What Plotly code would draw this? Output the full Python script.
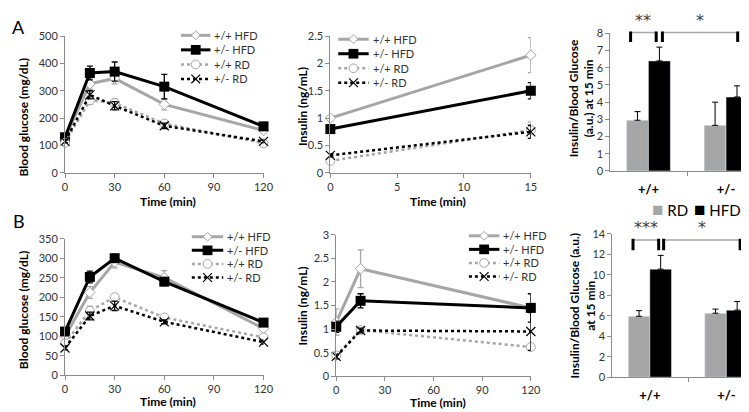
import plotly.graph_objects as go

W, H = 749, 412
FONT = "Lato, 'Open Sans', sans-serif"
GRAY = "#a6a6a6"
AXIS = "#8c8c8c"

# ---- data ----
series = ["+/+ HFD", "+/- HFD", "+/+ RD", "+/- RD"]

# A: glucose tolerance (0-120 min)
a_t = [0, 15, 30, 60, 120]
a_glu = {
    "+/+ HFD": [130, 325, 345, 250, 155],
    "+/- HFD": [130, 365, 370, 315, 170],
    "+/+ RD": [110, 265, 255, 180, 108],
    "+/- RD": [115, 285, 245, 172, 115],
}
a_glu_err = {
    "+/+ HFD": [5, 20, 20, 20, 8],
    "+/- HFD": [8, 25, 35, 45, 10],
    "+/+ RD": [5, 15, 15, 10, 5],
    "+/- RD": [5, 15, 15, 10, 5],
}
# A: insulin (0-15 min)
a_ins_t = [0, 15]
a_ins = {
    "+/+ HFD": [1.0, 2.15],
    "+/- HFD": [0.8, 1.5],
    "+/+ RD": [0.22, 0.78],
    "+/- RD": [0.32, 0.75],
}
a_ins_err = {
    "+/+ HFD": [0.05, 0.32],
    "+/- HFD": [0.05, 0.15],
    "+/+ RD": [0.03, 0.15],
    "+/- RD": [0.03, 0.12],
}

# B: glucose
b_t = [0, 15, 30, 60, 120]
b_glu = {
    "+/+ HFD": [100, 212, 290, 250, 120],
    "+/- HFD": [112, 252, 300, 240, 135],
    "+/+ RD": [82, 165, 200, 148, 97],
    "+/- RD": [70, 152, 178, 137, 85],
}
b_glu_err = {
    "+/+ HFD": [5, 15, 15, 18, 5],
    "+/- HFD": [5, 15, 10, 10, 5],
    "+/+ RD": [5, 12, 8, 5, 5],
    "+/- RD": [5, 10, 12, 5, 5],
}
# B: insulin
b_ins_t = [0, 15, 120]
b_ins = {
    "+/+ HFD": [1.15, 2.28, 1.45],
    "+/- HFD": [1.05, 1.6, 1.45],
    "+/+ RD": [0.44, 0.98, 0.62],
    "+/- RD": [0.42, 0.97, 0.95],
}
b_ins_err = {
    "+/+ HFD": [0.28, 0.4, 0.05],
    "+/- HFD": [0.12, 0.15, 0.3],
    "+/+ RD": [0.05, 0.05, 0.05],
    "+/- RD": [0.05, 0.05, 0.4],
}

# ratio bars at 15 min
genotypes = ["+/+", "+/-"]
a_rd, a_rd_err = [2.95, 2.65], [0.5, 1.35]
a_hfd, a_hfd_err = [6.4, 4.3], [0.8, 0.65]
b_rd, b_rd_err = [5.95, 6.25], [0.55, 0.4]
b_hfd, b_hfd_err = [10.55, 6.55], [1.35, 0.85]

# significance brackets: (x0, x1, y, tick length, label)
a_sig = [(-0.23, 0.10, 8.05, 0.55, "**"), (0.18, 1.15, 8.05, 0.55, "*")]
b_sig = [(-0.22, 0.115, 13.4, 1.0, "***"), (0.18, 1.18, 13.4, 1.0, "*")]

styles = {
    "+/+ HFD": dict(line=dict(color=GRAY, width=3),
                    marker=dict(symbol="diamond", size=8, color="white", line=dict(color=GRAY, width=1))),
    "+/- HFD": dict(line=dict(color="black", width=3),
                    marker=dict(symbol="square", size=10, color="black")),
    "+/+ RD": dict(line=dict(color=GRAY, width=2.5, dash="dot"),
                   marker=dict(symbol="circle", size=9, color="white", line=dict(color=GRAY, width=1))),
    "+/- RD": dict(line=dict(color="black", width=2.5, dash="dot"),
                   marker=dict(symbol="x-thin-open", size=9, color="black", line=dict(color="black", width=1.2))),
}


def px_x(p):
    return p / W


def px_y(p):
    return 1 - p / H


fig = go.Figure()


def add_lines(t, vals, errs, ax):
    for s in series:
        st = styles[s]
        fig.add_trace(go.Scatter(
            x=t, y=vals[s], name=s, mode="lines+markers", showlegend=False,
            line=st["line"], marker=st["marker"],
            error_y=dict(type="data", array=errs[s], color=st["line"]["color"], thickness=1.3, width=3),
            xaxis="x" + ax, yaxis="y" + ax, cliponaxis=False,
        ))


add_lines(a_t, a_glu, a_glu_err, "")
add_lines(a_ins_t, a_ins, a_ins_err, "2")
add_lines(b_t, b_glu, b_glu_err, "4")
add_lines(b_ins_t, b_ins, b_ins_err, "5")


def add_bars(rd, rd_err, hfd, hfd_err, ax):
    for name, v, e, c in [("RD", rd, rd_err, GRAY), ("HFD", hfd, hfd_err, "black")]:
        fig.add_trace(go.Bar(
            x=genotypes, y=v, name=name, marker_color=c, showlegend=False,
            error_y=dict(type="data", array=e, arrayminus=[0] * len(e), symmetric=False,
                         color="black", thickness=1, width=3),
            xaxis="x" + ax, yaxis="y" + ax,
        ))


add_bars(a_rd, a_rd_err, a_hfd, a_hfd_err, "3")
add_bars(b_rd, b_rd_err, b_hfd, b_hfd_err, "6")

shapes, annos = [], []

# significance brackets (y in axis-domain fraction so they are not clipped at the top)
for sig, ax, ymax in [(a_sig, "3", 8), (b_sig, "6", 14)]:
    yr = f"y{ax} domain"
    for x0, x1, y, tl, lab in sig:
        shapes.append(dict(type="line", xref="x" + ax, yref=yr, x0=x0, x1=x1, y0=y / ymax, y1=y / ymax,
                           line=dict(color=GRAY, width=1.5)))
        for xx in (x0, x1):
            shapes.append(dict(type="line", xref="x" + ax, yref=yr, x0=xx, x1=xx,
                               y0=(y - tl) / ymax, y1=(y + tl * 0.12) / ymax,
                               line=dict(color="black", width=3)))
        annos.append(dict(xref="x" + ax, yref=yr, x=(x0 + x1) / 2, y=y / ymax, text=lab, showarrow=False,
                          yanchor="bottom", yshift=1,
                          font=dict(size=16, color="#404040", family="DejaVu Sans")))


# hand-drawn legends (Excel style, tight rows)
def legend_block(lx0, lx1, rows, tx):
    for s, yy in zip(series, rows):
        st = styles[s]
        col = st["line"]["color"]
        shapes.append(dict(type="line", xref="paper", yref="paper", x0=px_x(lx0), x1=px_x(lx1),
                           y0=px_y(yy), y1=px_y(yy),
                           line=dict(color=col, width=st["line"]["width"], dash=st["line"].get("dash", "solid"))))
        cx = (lx0 + lx1) / 2
        if s == "+/+ HFD":
            r = 4.5
            path = (f"M {px_x(cx)},{px_y(yy - r)} L {px_x(cx + r)},{px_y(yy)} "
                    f"L {px_x(cx)},{px_y(yy + r)} L {px_x(cx - r)},{px_y(yy)} Z")
            shapes.append(dict(type="path", xref="paper", yref="paper", path=path,
                               fillcolor="white", line=dict(color=GRAY, width=1)))
        elif s == "+/- HFD":
            r = 5
            shapes.append(dict(type="rect", xref="paper", yref="paper", x0=px_x(cx - r), x1=px_x(cx + r),
                               y0=px_y(yy - r), y1=px_y(yy + r), fillcolor="black", line=dict(width=0)))
        elif s == "+/+ RD":
            r = 4.5
            shapes.append(dict(type="circle", xref="paper", yref="paper", x0=px_x(cx - r), x1=px_x(cx + r),
                               y0=px_y(yy - r), y1=px_y(yy + r), fillcolor="white",
                               line=dict(color=GRAY, width=1)))
        else:
            r = 4.5
            for d in (1, -1):
                shapes.append(dict(type="line", xref="paper", yref="paper", x0=px_x(cx - r), x1=px_x(cx + r),
                                   y0=px_y(yy - d * r), y1=px_y(yy + d * r),
                                   line=dict(color="black", width=1.2)))
        annos.append(dict(xref="paper", yref="paper", x=px_x(tx), y=px_y(yy), text=s, showarrow=False,
                          xanchor="left", yanchor="middle", font=dict(size=11, color="#333", family=FONT)))


legend_block(173, 203, [21, 36, 51, 66], 205)
legend_block(333, 364, [25, 40, 55, 70], 366)
legend_block(184, 216, [229, 243, 257, 271], 218)
legend_block(466, 497, [228, 242, 256, 270], 499)

# RD / HFD legend for bar panels
for lx, lab, col in [(650, "RD", GRAY), (693, "HFD", "black")]:
    annos.append(dict(xref="paper", yref="paper", x=px_x(lx), y=px_y(200),
                      text=f"<span style='color:{col};font-size:19px'>■</span> {lab}",
                      showarrow=False, xanchor="left", yanchor="middle",
                      font=dict(size=15, color="black", family=FONT)))


def txt(x, y, s, size=12, angle=0, bold=True):
    annos.append(dict(xref="paper", yref="paper", x=px_x(x), y=px_y(y), text=f"<b>{s}</b>" if bold else s,
                      showarrow=False, textangle=angle, xanchor="center", yanchor="middle",
                      font=dict(size=size, color="black", family=FONT)))


txt(8, 12, "A", size=18, bold=False)
txt(8, 213, "B", size=18, bold=False)
txt(13, 106, "Blood glucose (mg/dL)", angle=-90)
txt(160, 193, "Time (min)")
txt(296, 94, "Insulin (ng/mL)", angle=-90)
txt(435, 193, "Time (min)")
txt(580, 86, "Insulin/Blood Glucose<br>(a.u.) at 15 min", angle=-90)
txt(13, 305, "Blood glucose (mg/dL)", angle=-90)
txt(160, 399, "Time (min)")
txt(297, 300, "Insulin (ng/mL)", angle=-90)
txt(435, 400, "Time (min)")
txt(582, 300, "Insulin/Blood Glucose (a.u.)<br>at 15 min", angle=-90)

axis_common = dict(showline=True, linecolor=AXIS, linewidth=1, ticks="outside", tickcolor=AXIS, ticklen=4,
                   showgrid=False, zeroline=False, tickfont=dict(size=11, color="#333", family=FONT))


def xa(d0, d1, rng, dtick, anchor):
    return dict(axis_common, domain=[px_x(d0), px_x(d1)], range=rng, dtick=dtick, tick0=0, anchor=anchor)


def ya(d0, d1, rng, dtick, anchor):
    return dict(axis_common, domain=[px_y(d0), px_y(d1)], range=rng, dtick=dtick, tick0=0, anchor=anchor)


bar_x = dict(axis_common, type="category", range=[-0.49, 1.27], tickson="boundaries", ticklabelstandoff=6,
             tickfont=dict(size=13, color="black", family=FONT, weight="bold"))

fig.update_layout(
    width=W, height=H, margin=dict(l=0, r=0, t=0, b=0),
    paper_bgcolor="white", plot_bgcolor="white",
    font=dict(family=FONT), showlegend=False,
    barmode="group", bargap=0.435, bargroupgap=0,
    xaxis=xa(55, 257, [0, 120], 30, "y"),
    yaxis=ya(163, 21.7, [0, 500], 100, "x"),
    xaxis2=xa(325, 529, [0, 15], 5, "y2"),
    yaxis2=ya(163, 21.7, [0, 2.5], 0.5, "x2"),
    xaxis3=dict(bar_x, domain=[px_x(610), 1], anchor="y3"),
    yaxis3=ya(161, 19, [0, 8], 1, "x3"),
    xaxis4=xa(55, 257, [0, 120], 30, "y4"),
    yaxis4=ya(372, 231, [0, 350], 50, "x4"),
    xaxis5=xa(331, 529, [0, 120], 30, "y5"),
    yaxis5=ya(373, 227, [0, 3], 0.5, "x5"),
    xaxis6=dict(bar_x, domain=[px_x(612), 1], anchor="y6"),
    yaxis6=ya(374, 226, [0, 14], 2, "x6"),
    shapes=shapes, annotations=annos,
)

fig.write_html("out.html")
